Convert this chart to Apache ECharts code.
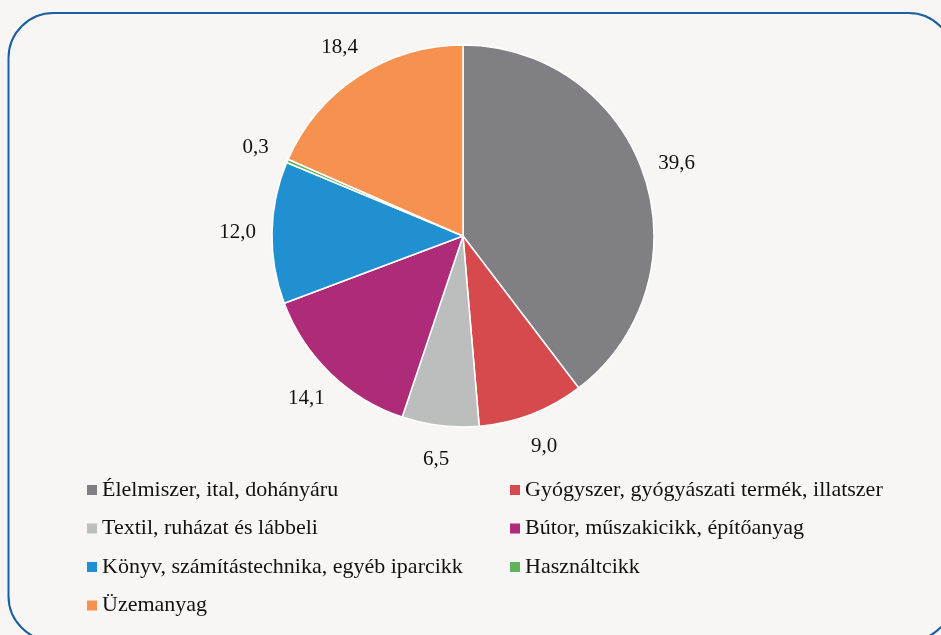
<!DOCTYPE html>
<html>
<head>
<meta charset="utf-8">
<script src="https://cdn.jsdelivr.net/npm/echarts@6/dist/echarts.min.js"></script>
<style>
html,body{margin:0;padding:0;background:#f7f6f5;}
#chart{width:941px;height:635px;}
</style>
</head>
<body>
<div id="chart"></div>
<script>
const categories = [
  'Élelmiszer, ital, dohányáru',
  'Gyógyszer, gyógyászati termék, illatszer',
  'Textil, ruházat és lábbeli',
  'Bútor, műszakicikk, építőanyag',
  'Könyv, számítástechnika, egyéb iparcikk',
  'Használtcikk',
  'Üzemanyag'
];
const values = [39.6, 9.0, 6.5, 14.1, 12.0, 0.3, 18.4];
const colors = ['#7f7f84', '#d64a4e', '#bcbebd', '#ae2b78', '#2190d0', '#5fb45a', '#f6914f'];
const legendLeft = [categories[0], categories[2], categories[4], categories[6]];
const legendRight = [categories[1], categories[3], categories[5]];

const font = 'Liberation Serif, Times New Roman, serif';
const fmt = v => v.toFixed(1).replace('.', ',');

const chart = echarts.init(document.getElementById('chart'), null, {renderer: 'canvas'});
const data = categories.map((c, i) => ({name: c, value: values[i], itemStyle: {color: colors[i]}}));

const legendCommon = {
  orient: 'vertical',
  icon: 'rect',
  itemWidth: 10,
  itemHeight: 10,
  itemGap: 16.5,
  top: 474,
  selectedMode: false,
  itemStyle: {borderWidth: 0},
  textStyle: {fontFamily: font, fontSize: 22, color: '#111'}
};

chart.setOption({
  backgroundColor: '#f7f6f5',
  animation: false,
  graphic: [{
    type: 'rect',
    silent: true,
    shape: {x: 8.5, y: 13, width: 945, height: 628, r: 45},
    style: {fill: 'none', stroke: '#1c5e9f', lineWidth: 2}
  }],
  legend: [
    Object.assign({}, legendCommon, {left: 82, data: legendLeft}),
    Object.assign({}, legendCommon, {left: 505, data: legendRight})
  ],
  series: [
    {
      type: 'pie',
      center: [463, 236],
      radius: [0, 191],
      startAngle: 90,
      clockwise: true,
      avoidLabelOverlap: false,
      label: {show: false},
      labelLine: {show: false},
      itemStyle: {borderColor: '#ffffff', borderWidth: 1.5},
      emphasis: {disabled: true},
      data: data
    },
    {
      type: 'pie',
      center: [463, 236],
      radius: [191, 254],
      startAngle: 90,
      clockwise: true,
      silent: true,
      avoidLabelOverlap: false,
      legendHoverLink: false,
      itemStyle: {color: 'rgba(0,0,0,0)'},
      label: {
        show: true,
        position: 'inside',
        formatter: p => fmt(p.value),
        fontFamily: font,
        fontSize: 21,
        color: '#111'
      },
      labelLine: {show: false},
      emphasis: {disabled: true},
      data: categories.map((c, i) => ({name: c, value: values[i]}))
    }
  ]
});
</script>
</body>
</html>
